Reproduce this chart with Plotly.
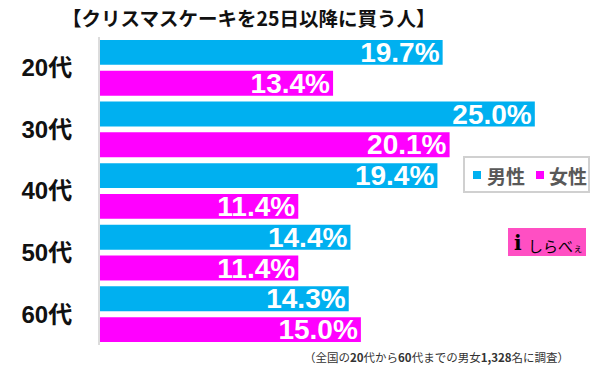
import plotly.graph_objects as go

# ---- data ----
categories = ["20代", "30代", "40代", "50代", "60代"]
series_names = ["男性", "女性"]
male_values = [19.7, 25.0, 19.4, 14.4, 14.3]
female_values = [13.4, 20.1, 11.4, 11.4, 15.0]
title_text = "【クリスマスケーキを25日以降に買う人】"
footnote_text = "（全国の<b>20</b>代から<b>60</b>代までの男女<b>1,328</b>名に調査）"

colors = ["#00B0F0", "#FF00FF"]
FONT = "Liberation Sans, Arial, Noto Sans CJK JP, sans-serif"
JFONT = "Noto Sans CJK JP, Liberation Sans, sans-serif"

W, H = 600, 372
L, R, T, B = 100, 587, 37, 345


def px(x):
    return (x - L) / (R - L)


def py(y):
    return (B - y) / (B - T)


fig = go.Figure()
for name, vals, col in zip(series_names, [male_values, female_values], colors):
    fig.add_trace(go.Bar(
        name=name,
        y=categories,
        x=vals,
        orientation="h",
        marker=dict(color=col, line=dict(width=0)),
        text=[f"{v:.1f}%" for v in vals],
        textposition="inside",
        insidetextanchor="end",
        constraintext="none",
        textangle=0,
        textfont=dict(family=FONT, size=28, color="white", weight="bold"),
        cliponaxis=False,
        showlegend=False,
        hoverinfo="skip",
    ))

shapes = []
annotations = []

# title
annotations.append(dict(
    text=title_text, xref="paper", yref="paper", x=px(248), y=py(18),
    xanchor="center", yanchor="middle", showarrow=False,
    font=dict(family=JFONT, size=19.5, color="#111111", weight="bold"),
))

# legend (manual)
shapes.append(dict(type="rect", xref="paper", yref="paper",
                   x0=px(464), x1=px(589), y0=py(192), y1=py(157),
                   line=dict(color="#d0d0d0", width=2), fillcolor="white", layer="above"))
legend_sq_x = [473, 536]
legend_txt_x = [485, 547]
for name, col, sx, tx in zip(series_names, colors, legend_sq_x, legend_txt_x):
    shapes.append(dict(type="rect", xref="paper", yref="paper",
                       x0=px(sx), x1=px(sx + 8), y0=py(179), y1=py(171),
                       line=dict(width=0), fillcolor=col, layer="above"))
    annotations.append(dict(
        text=name, xref="paper", yref="paper", x=px(tx), y=py(175),
        xanchor="left", yanchor="middle", showarrow=False,
        font=dict(family=JFONT, size=19, color="#595959", weight="bold"),
    ))

# logo
shapes.append(dict(type="rect", xref="paper", yref="paper",
                   x0=px(508), x1=px(586), y0=py(256), y1=py(228),
                   line=dict(width=0), fillcolor="#FF4FC3", layer="above"))
annotations.append(dict(
    text="<b>i</b>", xref="paper", yref="paper", x=px(518), y=py(243),
    xanchor="center", yanchor="middle", showarrow=False,
    font=dict(family="DejaVu Serif, serif", size=20, color="black"),
))
annotations.append(dict(
    text="しらべ<span style='font-size:10px'>ぇ</span>", xref="paper", yref="paper",
    x=px(526), y=py(245), xanchor="left", yanchor="middle", showarrow=False,
    font=dict(family=JFONT, size=15, color="black"),
))

# footnote
annotations.append(dict(
    text=footnote_text, xref="paper", yref="paper", x=px(436), y=py(357),
    xanchor="center", yanchor="middle", showarrow=False,
    font=dict(family=JFONT, size=11.5, color="#333333"),
))

fig.update_layout(
    width=W, height=H,
    margin=dict(l=L, r=W - R, t=T, b=H - B, pad=0, autoexpand=False),
    paper_bgcolor="white", plot_bgcolor="white",
    barmode="group", bargap=0, bargroupgap=0.19,
    xaxis=dict(visible=False, range=[0, 28], showgrid=False, zeroline=False,
               automargin=False),
    yaxis=dict(
        type="category", categoryorder="array", categoryarray=categories,
        autorange="reversed", showline=True, linecolor="#dcdcdc", linewidth=2,
        showgrid=False, zeroline=False, ticks="", ticklabelstandoff=21,
        automargin=False,
        tickfont=dict(family=FONT, size=24, color="#111111", weight="bold"),
    ),
    shapes=shapes, annotations=annotations,
    showlegend=False,
)

fig.write_html(
    "out.html",
    config={"displayModeBar": False},
    post_script="document.body.style.margin='0';document.body.style.overflow='hidden';",
)
